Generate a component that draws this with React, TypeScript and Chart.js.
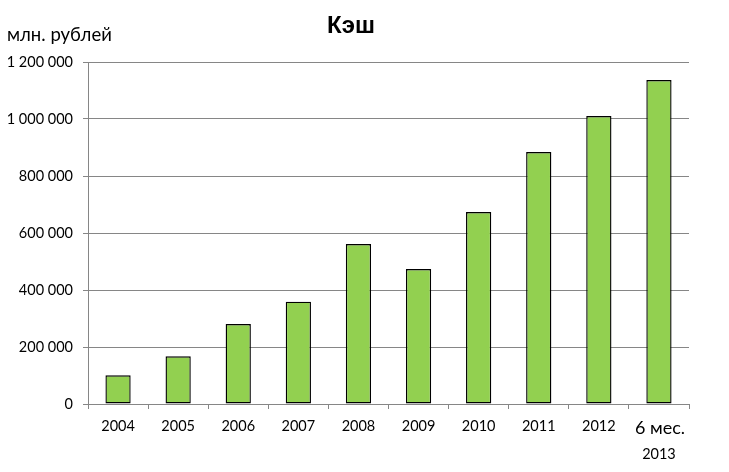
import React, { useEffect, useRef } from "react";
import { Chart, registerables } from "chart.js";

Chart.register(...registerables);

const categoryLabels: string[][] = [
  ["2004"], ["2005"], ["2006"], ["2007"], ["2008"],
  ["2009"], ["2010"], ["2011"], ["2012"], ["6 мес.", "2013"],
];
const cashValues: number[] = [
  100700, 167400, 280700, 358900, 561400,
  473700, 673700, 884200, 1010500, 1136800,
];
const yTicks: number[] = [0, 200000, 400000, 600000, 800000, 1000000, 1200000];
const titleText = "Кэш";
const unitText = "млн. рублей";

const fmt = (v: number) => String(v).replace(/\B(?=(\d{3})+(?!\d))/g, " ");

const textPlugin = {
  id: "customText",
  afterDraw(chart: any) {
    const ctx = chart.ctx;
    const xs = chart.scales.x;
    ctx.save();
    ctx.fillStyle = "#000000";
    ctx.textBaseline = "alphabetic";
    ctx.textAlign = "center";
    ctx.font = "bold 24px 'Liberation Sans', Arial, sans-serif";
    ctx.fillText(titleText, 351, 33);
    ctx.textAlign = "left";
    ctx.font = "18.5px Lato, sans-serif";
    ctx.fillText(unitText, 7, 41);
    ctx.textAlign = "center";
    ctx.textBaseline = "middle";
    categoryLabels.forEach((lines, i) => {
      const x = xs.getPixelForValue(i);
      if (lines.length === 1) {
        ctx.font = "14.5px Lato, sans-serif";
        ctx.fillText(lines[0], x, 426);
      } else {
        ctx.font = "18px Lato, sans-serif";
        ctx.fillText(lines[0], x + 1, 428);
        ctx.font = "14.5px Lato, sans-serif";
        ctx.fillText(lines[1], x, 454);
      }
    });
    ctx.restore();
  },
};

export default function App() {
  const ref = useRef<HTMLCanvasElement | null>(null);
  useEffect(() => {
    if (!ref.current) return;
    const chart = new Chart(ref.current, {
      type: "bar",
      data: {
        labels: categoryLabels.map((l) => l.join(" ")),
        datasets: [
          {
            data: cashValues,
            backgroundColor: "#92D050",
            borderColor: "#000000",
            borderWidth: 1.4,
            borderSkipped: false,
            categoryPercentage: 1,
            barPercentage: 0.42,
          },
        ],
      },
      options: {
        responsive: false,
        animation: false,
        layout: { padding: { left: 0, right: 40, top: 62, bottom: 0 } },
        plugins: {
          legend: { display: false },
          title: { display: false },
          tooltip: { enabled: false },
        },
        scales: {
          x: {
            offset: true,
            grid: {
              offset: true,
              drawOnChartArea: false,
              drawTicks: true,
              tickLength: 5,
              color: "#868686",
            },
            border: { color: "#868686", width: 1 },
            ticks: { display: false },
            afterFit: (s: any) => {
              s.height = 68;
            },
          },
          y: {
            min: 0,
            max: 1200000,
            afterBuildTicks: (s: any) => {
              s.ticks = yTicks.map((v) => ({ value: v }));
            },
            grid: {
              color: "#868686",
              lineWidth: 1,
              drawTicks: true,
              tickLength: 5,
            },
            border: { color: "#868686", width: 1 },
            ticks: {
              color: "#000000",
              padding: 10,
              font: { family: "Lato", size: 14.5 },
              callback: (v: any) => fmt(Number(v)),
            },
            afterFit: (s: any) => {
              s.width = 88;
            },
          },
        },
      },
      plugins: [textPlugin],
    });
    return () => chart.destroy();
  }, []);
  return (
    <div style={{ position: "absolute", left: 0, top: 0, width: 729, height: 472, background: "#fff" }}>
      <canvas ref={ref} width={729} height={472} style={{ width: 729, height: 472 }} />
    </div>
  );
}
